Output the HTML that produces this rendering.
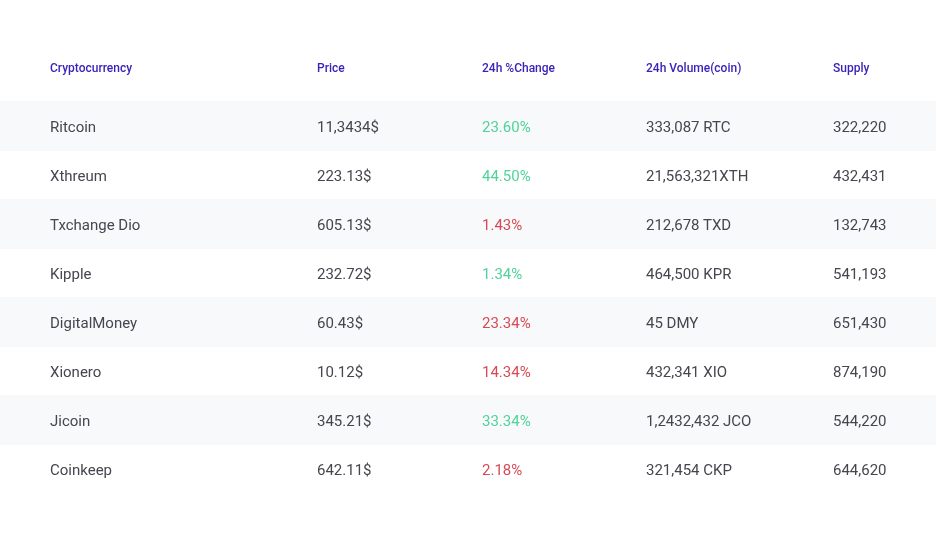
<!DOCTYPE html>
<html>
<head>
<meta charset="utf-8">
<style>
html,body{margin:0;padding:0;background:#fff;}
body{width:937px;height:536px;overflow:hidden;font-family:Roboto,"Liberation Sans",sans-serif;}
table{will-change:transform;position:absolute;left:0;top:34px;width:936px;border-collapse:collapse;border-spacing:0;}
th,td{padding:0;text-align:left;vertical-align:middle;white-space:nowrap;}
th{height:67px;font-size:12px;font-weight:500;color:#3d22b8;}
td{height:49px;box-sizing:border-box;padding-top:2px;font-size:15px;color:#45464e;}
tbody tr:nth-child(odd) td{background:#f8f9fb;height:50px;padding-top:1px;}
tbody tr:nth-child(even) td{height:48px;padding-top:1px;}
.c1{padding-left:50px;width:267px;}
.c2{width:165px;}
.c3{width:164px;}
.c4{width:187px;}
.up{color:#50d398;}
.dn{color:#d84a53;}
</style>
</head>
<body>
<table>
<thead>
<tr><th class="c1">Cryptocurrency</th><th class="c2">Price</th><th class="c3">24h %Change</th><th class="c4">24h Volume(coin)</th><th>Supply</th></tr>
</thead>
<tbody>
<tr><td class="c1">Ritcoin</td><td>11,3434$</td><td class="up">23.60%</td><td>333,087 RTC</td><td>322,220</td></tr>
<tr><td class="c1">Xthreum</td><td>223.13$</td><td class="up">44.50%</td><td>21,563,321XTH</td><td>432,431</td></tr>
<tr><td class="c1">Txchange Dio</td><td>605.13$</td><td class="dn">1.43%</td><td>212,678 TXD</td><td>132,743</td></tr>
<tr><td class="c1">Kipple</td><td>232.72$</td><td class="up">1.34%</td><td>464,500 KPR</td><td>541,193</td></tr>
<tr><td class="c1">DigitalMoney</td><td>60.43$</td><td class="dn">23.34%</td><td>45 DMY</td><td>651,430</td></tr>
<tr><td class="c1">Xionero</td><td>10.12$</td><td class="dn">14.34%</td><td>432,341 XIO</td><td>874,190</td></tr>
<tr><td class="c1">Jicoin</td><td>345.21$</td><td class="up">33.34%</td><td>1,2432,432 JCO</td><td>544,220</td></tr>
<tr><td class="c1">Coinkeep</td><td>642.11$</td><td class="dn">2.18%</td><td>321,454 CKP</td><td>644,620</td></tr>
</tbody>
</table>
</body>
</html>
